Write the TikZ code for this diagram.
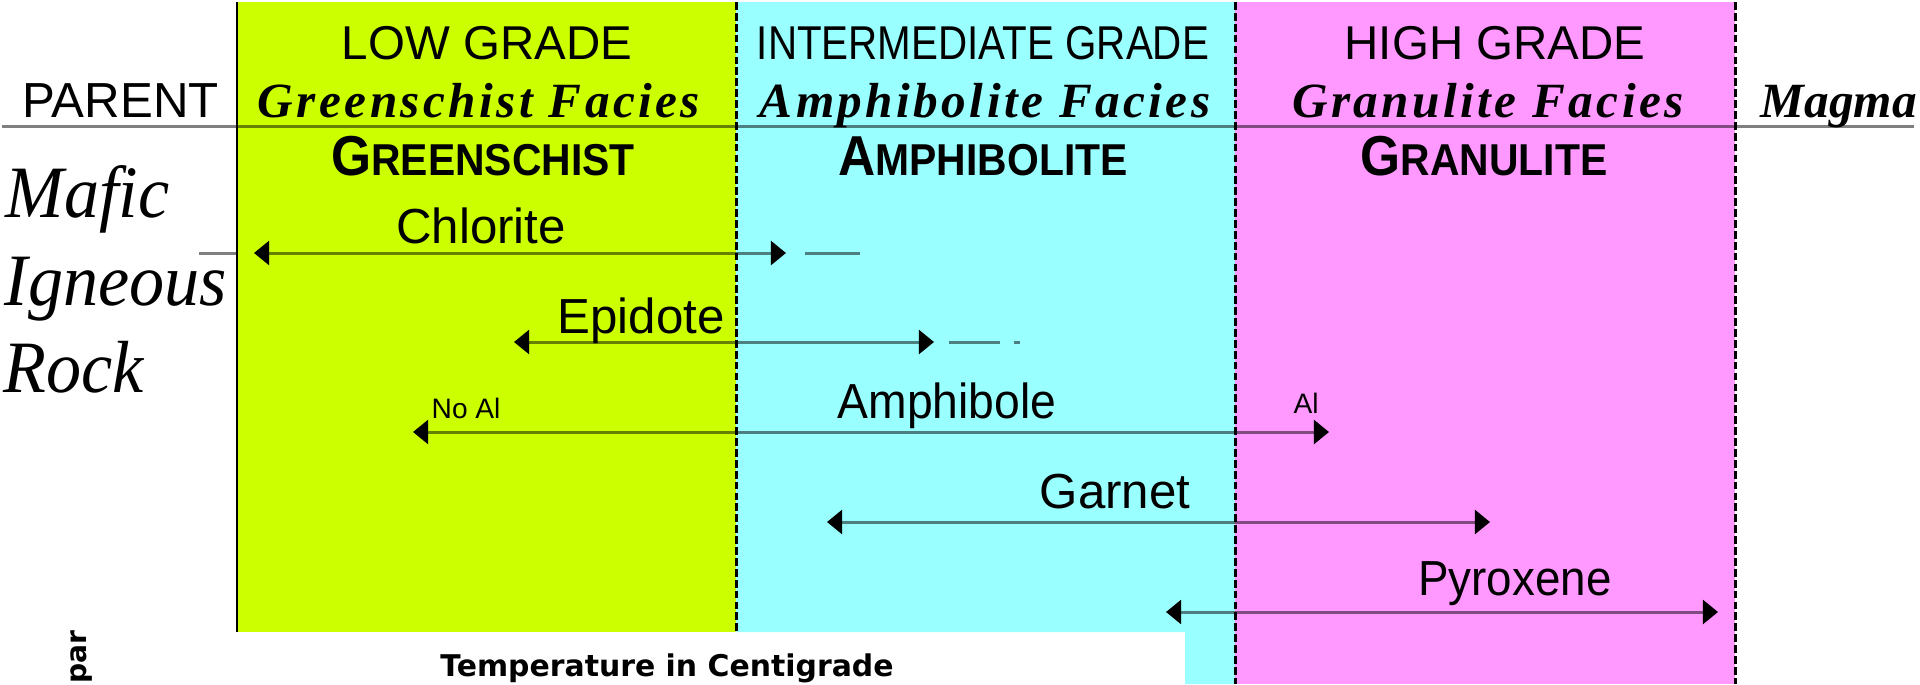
\documentclass[tikz,border=0pt]{standalone}
\usepackage{fontspec}
\usepackage{graphicx}
\setmainfont{Liberation Serif}
\setsansfont{Liberation Sans}
\newfontfamily\faciesfont{Liberation Serif}[LetterSpace=7]
\newfontfamily\tempfont{DejaVu Sans}
\usepackage{tikz}
\usetikzlibrary{arrows.meta}
\definecolor{colLow}{RGB}{204,255,0}
\definecolor{colMid}{RGB}{153,255,255}
\definecolor{colHigh}{RGB}{255,153,255}
\definecolor{colRule}{RGB}{128,128,128}

% zone names: first letter larger, rest small caps
\newcommand{\zonename}[2]{\scalebox{0.915}[1]{\bfseries\fontsize{16}{16}\selectfont #1\fontsize{12.7}{13}\selectfont #2}}

\begin{document}
\begin{tikzpicture}[
        x=0.01cm, y=-0.01cm,
        >={Triangle[length=4.3pt, width=6.8pt, color=black]},
        grade/.style={font=\sffamily\fontsize{13.5}{14}\selectfont, anchor=base, inner sep=0pt},
        facies/.style={font=\faciesfont\bfseries\itshape\fontsize{14}{14}\selectfont, anchor=base, inner sep=0pt},
        zone/.style={font=\sffamily, anchor=base, inner sep=0pt},
        rockname/.style={font=\itshape\fontsize{21}{21}\selectfont, anchor=base west, inner sep=0pt},
        mineral/.style={font=\sffamily\fontsize{14}{14}\selectfont, anchor=base, inner sep=0pt},
        note/.style={font=\sffamily\fontsize{8}{8}\selectfont, anchor=base west, inner sep=0pt},
        minrange/.style={colRule, line width=0.3mm, blend mode=multiply},
        rule/.style={colRule, line width=0.3mm, blend mode=multiply},
        divider/.style={black, line width=0.3mm, dash pattern=on 2.2pt off 0.9pt}
    ]
    \useasboundingbox (0,0) rectangle (1920,684);

    %% ── FACIES BANDS ─────────────────────────────────
    \fill[colLow] (237,2) rectangle (736,632);
    \fill[colMid] (736,2) -- (1235,2) -- (1235,684) -- (1185,684) -- (1185,632) -- (736,632) -- cycle;
    \fill[colHigh] (1235,2) rectangle (1735,684);

    \draw[black, line width=0.28mm] (237,2) -- (237,632);
    \draw[divider] (736,2) -- (736,632);
    \draw[divider] (1235,2) -- (1235,684);
    \draw[divider] (1735,2) -- (1735,684);

    %% ── HEADER ───────────────────────────────────────
    \node[grade] (low) at (487,59) {LOW GRADE};
    \node[grade] (mid) at (983,59) {\scalebox{0.85}[1]{INTERMEDIATE GRADE}};
    \node[grade] (high) at (1495,59) {HIGH GRADE};

    \node[font=\sffamily\fontsize{14}{14}\selectfont, anchor=base west, inner sep=0pt] (parent) at (22,117) {PARENT};
    \node[facies] (gs-fac) at (479,117) {Greenschist Facies};
    \node[facies] (am-fac) at (985,117) {Amphibolite Facies};
    \node[facies] (gr-fac) at (1488,117) {Granulite Facies};
    \node[font=\bfseries\itshape\fontsize{14}{14}\selectfont, anchor=base west, inner sep=0pt] (magma) at (1760,117) {Magma};

    \coordinate (rule-w) at (2,126);
    \coordinate (rule-e) at (1914,126);
    \draw[rule] (rule-w) -- (rule-e);

    \node[zone] (gs) at (483,175) {\zonename{G}{REENSCHIST}};
    \node[zone] (am) at (983,175) {\zonename{A}{MPHIBOLITE}};
    \node[zone] (gr) at (1484,175) {\zonename{G}{RANULITE}};

    %% Roche mère
    \node[rockname] (mafic) at (5,217) {\scalebox{0.95}[1]{Mafic}};
    \node[rockname] (igneous) at (4,305) {\scalebox{0.95}[1]{Igneous}};
    \node[rockname] (rock) at (3,392) {\scalebox{0.95}[1]{Rock}};

    %% ── MINERAL RANGES ───────────────────────────────
    \node[mineral] (chl) at (481,243) {Chlorite};
    \coordinate (chl-w) at (254,253);
    \coordinate (chl-e) at (786,253);
    \coordinate (chl-t1) at (805,253);
    \coordinate (chl-t2) at (860,253);
    \coordinate (stub-w) at (199,253);
    \coordinate (stub-e) at (236,253);
    \draw[minrange, <->] (chl-w) -- (chl-e);
    \draw[minrange] (chl-t1) -- (chl-t2);
    \draw[rule] (stub-w) -- (stub-e);

    \node[mineral] (epi) at (641,333) {Epidote};
    \coordinate (epi-w) at (514,342);
    \coordinate (epi-e) at (934,342);
    \coordinate (epi-t1) at (949,342);
    \coordinate (epi-t2) at (1000,342);
    \coordinate (epi-t3) at (1014,342);
    \coordinate (epi-t4) at (1020,342);
    \draw[minrange, <->] (epi-w) -- (epi-e);
    \draw[minrange] (epi-t1) -- (epi-t2);
    \draw[minrange] (epi-t3) -- (epi-t4);

    \node[mineral] (amp) at (947,418) {\scalebox{0.94}[1]{Amphibole}};
    \node[note] (noal) at (431,418) {No Al};
    \node[note] (al) at (1293,413) {Al};
    \coordinate (amp-w) at (413,432);
    \coordinate (amp-e) at (1329,432);
    \draw[minrange, <->] (amp-w) -- (amp-e);

    \node[mineral] (grt) at (1115,508) {Garnet};
    \coordinate (grt-w) at (827,522);
    \coordinate (grt-e) at (1490,522);
    \draw[minrange, <->] (grt-w) -- (grt-e);

    \node[mineral] (px) at (1515,595) {\scalebox{0.93}[1]{Pyroxene}};
    \coordinate (px-w) at (1166,612);
    \coordinate (px-e) at (1718,612);
    \draw[minrange, <->] (px-w) -- (px-e);

    %% ── AXIS ─────────────────────────────────────────
    \node[font=\tempfont\bfseries\fontsize{8.5}{9}\selectfont, anchor=base, inner sep=0pt] (temp) at (667,676) {Temperature in Centigrade};
    \node[font=\tempfont\bfseries\fontsize{8}{8}\selectfont, rotate=90, anchor=base west, inner sep=0pt] (fsp) at (87,684) {par};

\end{tikzpicture}
\end{document}
